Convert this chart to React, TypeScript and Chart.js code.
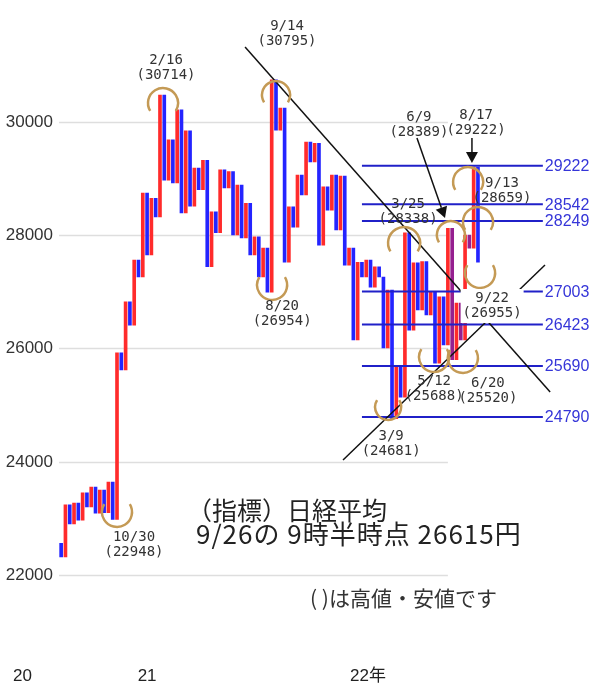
import { useEffect, useRef } from 'react';
import { Chart, registerables } from 'chart.js';

Chart.register(...registerables);

// consecutive body end values; each bar spans [closes[i], closes[i+1]]
const closes = [
  22560, 22320, 23240, 22900, 23270, 22970, 23450, 23200, 23550, 23090,
  23500, 23100, 23640, 22980, 25920, 25620, 26820, 26410, 27560, 27260,
  28740, 27650, 28650, 28320, 30470, 28970, 29680, 28920, 30210, 28390,
  29840, 28510, 29180, 28800, 29320, 27440, 28410, 28040, 29150, 28830,
  29120, 28000, 28880, 27950, 28560, 27650, 27970, 27260, 27770, 26990,
  30740, 29850, 30240, 27520, 28500, 28140, 29060, 28710, 29640, 29290,
  29620, 27820, 28850, 28440, 29060, 28090, 29040, 27470, 27770, 26150,
  27520, 27260, 27560, 27080, 27440, 27260, 26010, 27030, 24760, 25670,
  25140, 28040, 26320, 27510, 26680, 27530, 26590, 27000, 25740, 26910,
  26060, 28120, 25800, 26800, 26150, 28000, 27770, 29200, 27520,
];
const purpleBars = [91, 93, 95];

const yTicks = [22000, 24000, 26000, 28000, 30000];
const yearLabels = ['20', '21', '22年'];
const yearAt = [-9, 20, 71.4];

const levelValues = [29222, 28542, 28249, 27003, 26423, 25690, 24790];
const levelFrom = 70;
const levelTo = 112.1;
const gridEnd = 90;

// trend lines: [bar, value] from -> to
const trendFrom = [[42.8, 31318], [65.6, 24030]];
const trendTo = [[113.8, 25230], [112.6, 27471]];

// highlighted highs / lows
const markDates = ['10/30', '2/16', '9/14', '8/20', '3/9', '3/25', '5/12', '6/9', '6/20', '8/17', '9/13', '9/22'];
const markPrices = [22948, 30714, 30795, 26954, 24681, 28338, 25688, 28389, 25520, 29222, 28659, 26955];
const markKinds = ['low', 'high', 'high', 'low', 'low', 'high', 'low', 'high', 'low', 'high', 'high', 'low'];
const markBars = [13.0, 23.7, 50.0, 49.1, 76.1, 79.8, 86.8, 90.7, 93.5, 94.7, 97.0, 97.5];
const markValues = [23112, 30330, 30471, 27118, 24965, 27859, 25847, 28000, 25830, 28936, 28230, 27330];
const markLayout = [
  { r: 15, dx: 17, dy: 25 },
  { r: 15, dx: 3, dy: -43 },
  { r: 14, dx: 11, dy: -69 },
  { r: 15, dx: 10, dy: 21 },
  { r: 13, dx: 3, dy: 29 },
  { r: 16, dx: 4, dy: -39 },
  { r: 15, dx: 0, dy: 24 },
  { r: 14, dx: -32, dy: -118 },
  { r: 15, dx: 25, dy: 25 },
  { r: 15, dx: 8, dy: -67 },
  { r: 15, dx: 24, dy: -39 },
  { r: 15, dx: 12, dy: 25, box: true },
];

// arrows: [bar, value] from -> to
const arrowFrom = [[82.8, 29712], [95.6, 29712]];
const arrowTo = [[89.33, 28300], [95.6, 29271]];

const titleLine1 = '（指標）日経平均';
const titleLine2 = '9/26の 9時半時点 26615円';
const noteText = '( )は高値・安値です';

const RED = '#ff2b2b';
const BLUE = '#2424ff';
const PURPLE = '#952090';

const overlay = {
  id: 'overlay',
  beforeDatasetsDraw(chart: any) {
    const { ctx, chartArea, scales } = chart;
    const x = scales.x, y = scales.y;
    ctx.save();
    ctx.strokeStyle = '#dedede';
    ctx.lineWidth = 1.6;
    const xe = x.getPixelForValue(gridEnd);
    ctx.font = '17px "Liberation Sans", Arial, sans-serif';
    ctx.fillStyle = '#333333';
    ctx.textAlign = 'right';
    ctx.textBaseline = 'middle';
    yTicks.forEach((v) => {
      const py = Math.round(y.getPixelForValue(v)) + 0.5;
      ctx.beginPath();
      ctx.moveTo(chartArea.left, py);
      ctx.lineTo(xe, py);
      ctx.stroke();
      ctx.fillText(String(v), chartArea.left - 6, py);
    });
    ctx.restore();
  },
  afterDatasetsDraw(chart: any) {
    const { ctx, chartArea, scales } = chart;
    const x = scales.x, y = scales.y;
    ctx.save();

    // level lines
    const lx0 = x.getPixelForValue(levelFrom);
    const lx1 = x.getPixelForValue(levelTo);
    ctx.strokeStyle = '#2020c8';
    ctx.lineWidth = 2;
    ctx.font = '16px "Liberation Sans", Arial, sans-serif';
    ctx.fillStyle = '#3535d8';
    ctx.textAlign = 'left';
    ctx.textBaseline = 'middle';
    levelValues.forEach((v) => {
      const py = y.getPixelForValue(v);
      ctx.beginPath();
      ctx.moveTo(lx0, py);
      ctx.lineTo(lx1, py);
      ctx.stroke();
      ctx.fillText(String(v), lx1 + 2, py + 1);
    });

    // trend lines
    ctx.strokeStyle = '#111';
    ctx.lineWidth = 1.5;
    trendFrom.forEach((f, k) => {
      const t = trendTo[k];
      ctx.beginPath();
      ctx.moveTo(x.getPixelForValue(f[0]), y.getPixelForValue(f[1]));
      ctx.lineTo(x.getPixelForValue(t[0]), y.getPixelForValue(t[1]));
      ctx.stroke();
    });

    // arcs
    ctx.strokeStyle = '#c49a55';
    ctx.lineWidth = 2.5;
    const s = 0.55;
    markBars.forEach((b, k) => {
      const cx = x.getPixelForValue(b);
      const cy = y.getPixelForValue(markValues[k]);
      const r = markLayout[k].r;
      ctx.beginPath();
      if (markKinds[k] === 'high') ctx.arc(cx, cy, r, Math.PI - s, 2 * Math.PI + s);
      else ctx.arc(cx, cy, r, -s, Math.PI + s);
      ctx.stroke();
    });

    // arrows
    ctx.strokeStyle = '#111';
    ctx.fillStyle = '#111';
    ctx.lineWidth = 1.5;
    arrowFrom.forEach((f, k) => {
      const t = arrowTo[k];
      const x0 = x.getPixelForValue(f[0]), y0 = y.getPixelForValue(f[1]);
      const x1 = x.getPixelForValue(t[0]), y1 = y.getPixelForValue(t[1]);
      const ang = Math.atan2(y1 - y0, x1 - x0);
      const hl = 11, hw = 6;
      const bx = x1 - hl * Math.cos(ang), by = y1 - hl * Math.sin(ang);
      ctx.beginPath();
      ctx.moveTo(x0, y0);
      ctx.lineTo(bx, by);
      ctx.stroke();
      ctx.beginPath();
      ctx.moveTo(x1, y1);
      ctx.lineTo(bx + hw * Math.sin(ang), by - hw * Math.cos(ang));
      ctx.lineTo(bx - hw * Math.sin(ang), by + hw * Math.cos(ang));
      ctx.closePath();
      ctx.fill();
    });

    // date / price labels
    ctx.font = '14px "DejaVu Sans Mono", monospace';
    ctx.textAlign = 'center';
    ctx.textBaseline = 'middle';
    markBars.forEach((b, k) => {
      const cx = x.getPixelForValue(b);
      const cy = y.getPixelForValue(markValues[k]);
      const L = markLayout[k] as any;
      const tx = cx + L.dx, ty = cy + L.dy;
      const d = markDates[k];
      const p = '(' + markPrices[k] + ')';
      if (L.box) {
        const w = Math.max(ctx.measureText(d).width, ctx.measureText(p).width) + 4;
        ctx.fillStyle = '#ffffff';
        ctx.fillRect(tx - w / 2, ty - 9, w, 34);
      }
      ctx.fillStyle = '#333333';
      ctx.fillText(d, tx, ty);
      ctx.fillText(p, tx, ty + 15.5);
    });

    // notes
    ctx.textAlign = 'left';
    ctx.fillStyle = '#222222';
    ctx.font = '25px "Noto Sans CJK JP", sans-serif';
    ctx.fillText(titleLine1, 187, 510);
    ctx.font = '26px "Noto Sans CJK JP", sans-serif';
    (ctx as any).letterSpacing = '1px';
    ctx.fillText(titleLine2, 196, 534);
    (ctx as any).letterSpacing = '0px';
    ctx.fillStyle = '#333333';
    ctx.font = '21px "Noto Sans CJK JP", sans-serif';
    ctx.fillText(noteText, 310, 598);

    // year labels
    ctx.textAlign = 'center';
    ctx.fillStyle = '#222222';
    ctx.font = '17px "Liberation Sans", "Noto Sans CJK JP", sans-serif';
    yearLabels.forEach((lab, k) => {
      ctx.fillText(lab, x.getPixelForValue(yearAt[k]), chartArea.bottom + 16);
    });

    ctx.restore();
  },
};

export default function App() {
  const ref = useRef<HTMLCanvasElement>(null);
  useEffect(() => {
    document.body.style.margin = '0';
    const canvas = ref.current as HTMLCanvasElement;
    const bars = closes.slice(1).map((c, i) => ({ x: i, y: [closes[i], c] }));
    const colors = closes.slice(1).map((c, i) =>
      c > closes[i] ? RED : purpleBars.includes(i) ? PURPLE : BLUE
    );
    const chart = new Chart(canvas, {
      type: 'bar',
      data: {
        datasets: [
          {
            data: bars as any,
            backgroundColor: colors,
            barThickness: 3,
            borderWidth: 0,
          },
        ],
      },
      options: {
        animation: false,
        responsive: false,
        layout: { padding: { top: 8.4, bottom: 26, left: 0, right: 0 } },
        plugins: { legend: { display: false }, tooltip: { enabled: false } },
        scales: {
          x: { type: 'linear', min: -0.5, max: 125.4, display: false, offset: false },
          y: {
            min: 20500,
            max: 32000,
            afterBuildTicks: (ax: any) => {
              ax.ticks = yTicks.map((v) => ({ value: v }));
            },
            afterFit: (ax: any) => {
              ax.width = 59;
            },
            grid: { display: false, drawTicks: false },
            border: { display: false },
            ticks: { display: false },
          },
        },
      } as any,
      plugins: [overlay],
    });
    return () => chart.destroy();
  }, []);
  return (
    <div style={{ width: 600, height: 686 }}>
      <canvas ref={ref} width={600} height={686} style={{ display: 'block' }} />
    </div>
  );
}
